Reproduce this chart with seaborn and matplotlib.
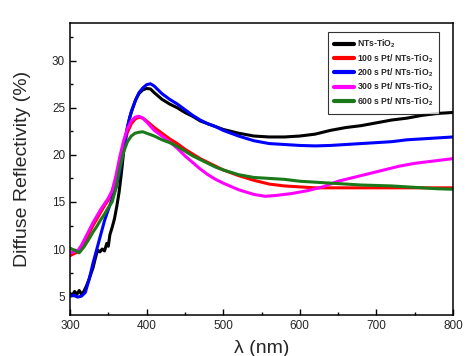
import pandas as pd
import numpy as np
import seaborn as sns
from matplotlib import pyplot as plt
from matplotlib.ticker import MultipleLocator

## Data
labels = ['NTs-TiO$_\\mathbf{2}$',
          '100 s Pt/ NTs-TiO$_\\mathbf{2}$',
          '200 s Pt/ NTs-TiO$_\\mathbf{2}$',
          '300 s Pt/ NTs-TiO$_\\mathbf{2}$',
          '600 s Pt/ NTs-TiO$_\\mathbf{2}$']
colours = ['#000000', '#ff0000', '#0000ff', '#ff00ff', '#1a7a1a']

wl_bare = [300, 303, 306, 309, 312, 315, 318, 321, 324, 327, 330, 333, 336, 339, 342, 345, 348, 350,
           352, 355, 358, 361, 364, 367, 370, 374, 378, 382, 386, 390, 395, 400, 405, 410, 420, 430,
           440, 450, 460, 470, 480, 490, 500, 520, 540, 560, 580, 600, 620, 640, 660, 680, 700, 720,
           740, 760, 780, 800]
r_bare = [5.3, 5.1, 5.5, 5.2, 5.6, 5.2, 5.5, 6.0, 6.6, 7.3, 8.0, 9.0, 9.9, 9.7, 10.0, 9.8, 10.6, 10.3,
          11.5, 12.3, 13.2, 14.5, 16.0, 18.0, 20.3, 22.5, 24.0, 25.0, 25.9, 26.5, 26.9, 27.05, 27.0, 26.6, 25.9, 25.4,
          25.0, 24.5, 24.1, 23.6, 23.3, 23.0, 22.7, 22.3, 22.0, 21.9, 21.9, 22.0, 22.2, 22.6, 22.9, 23.1, 23.4, 23.7,
          23.9, 24.2, 24.4, 24.5]

wl_100 = [300, 305, 310, 315, 320, 325, 330, 335, 340, 345, 350, 355, 360, 365, 370, 375, 380, 385, 390,
          395, 400, 410, 420, 430, 440, 450, 460, 470, 480, 490, 500, 520, 540, 560, 580, 600, 620, 650,
          700, 750, 800]
r_100 = [9.3, 9.5, 9.7, 10.2, 10.9, 11.7, 12.5, 13.2, 13.9, 14.6, 15.2, 16.0, 17.5, 19.3, 21.0, 22.4, 23.3, 23.8, 24.0,
         23.9, 23.6, 22.9, 22.3, 21.7, 21.2, 20.6, 20.1, 19.6, 19.2, 18.8, 18.4, 17.8, 17.3, 16.9, 16.7, 16.6, 16.5, 16.5,
         16.5, 16.5, 16.5]

wl_200 = [300, 305, 310, 315, 320, 325, 330, 335, 340, 345, 350, 355, 360, 365, 370, 375, 380, 385, 390,
          395, 400, 405, 410, 420, 430, 440, 450, 460, 470, 480, 490, 500, 520, 540, 560, 580, 600, 620,
          640, 660, 680, 700, 720, 740, 760, 780, 800]
r_200 = [5.0, 5.1, 4.9, 5.0, 5.4, 6.8, 8.5, 10.0, 11.5, 13.0, 14.2, 15.3, 16.5, 18.2, 20.5, 23.0, 24.6, 25.7, 26.6,
         27.1, 27.45, 27.55, 27.3, 26.5, 25.9, 25.4, 24.8, 24.2, 23.7, 23.3, 23.0, 22.6, 22.0, 21.5, 21.2, 21.1, 21.0, 20.95,
         21.0, 21.1, 21.2, 21.3, 21.4, 21.6, 21.7, 21.8, 21.9]

wl_300 = [300, 305, 310, 315, 320, 325, 330, 335, 340, 345, 350, 355, 360, 365, 370, 375, 380, 385, 390,
          395, 400, 410, 420, 430, 440, 450, 460, 470, 480, 490, 500, 520, 540, 555, 570, 590, 610, 630,
          650, 670, 690, 710, 730, 750, 770, 790, 800]
r_300 = [9.6, 9.7, 9.8, 10.4, 11.2, 12.0, 12.8, 13.5, 14.2, 14.8, 15.4, 16.2, 17.8, 19.8, 21.5, 22.8, 23.6, 24.0, 24.1,
         23.9, 23.5, 22.6, 22.0, 21.4, 20.7, 19.9, 19.2, 18.5, 17.9, 17.4, 17.0, 16.3, 15.8, 15.6, 15.7, 15.9, 16.2, 16.6,
         17.2, 17.6, 18.0, 18.4, 18.8, 19.1, 19.3, 19.5, 19.6]

wl_600 = [300, 305, 312, 318, 325, 330, 335, 340, 345, 350, 355, 360, 365, 370, 375, 380, 385, 390, 395,
          400, 410, 420, 430, 440, 450, 460, 470, 480, 490, 500, 520, 540, 560, 580, 600, 620, 640, 660,
          680, 700, 720, 740, 760, 780, 800]
r_600 = [10.1, 9.9, 9.6, 10.2, 11.1, 11.8, 12.4, 13.1, 13.7, 14.4, 15.0, 16.5, 18.6, 20.3, 21.4, 22.0, 22.3, 22.4, 22.45,
         22.3, 22.0, 21.6, 21.3, 20.9, 20.4, 19.9, 19.5, 19.1, 18.7, 18.4, 17.9, 17.6, 17.5, 17.4, 17.2, 17.1, 17.0, 16.9,
         16.8, 16.75, 16.7, 16.6, 16.5, 16.4, 16.35]

## Long table for seaborn
series = [(wl_bare, r_bare), (wl_100, r_100), (wl_200, r_200), (wl_300, r_300), (wl_600, r_600)]
frames = []
for lab, (wl, r) in zip(labels, series):
    frames.append(pd.DataFrame({'wavelength': wl, 'reflectivity': r, 'sample': lab}))
df = pd.concat(frames, ignore_index=True)

## Style
sns.set_style('ticks')
plt.rcParams['font.family'] = ['Liberation Sans', 'DejaVu Sans']
plt.rcParams['mathtext.fontset'] = 'custom'
plt.rcParams['mathtext.rm'] = 'Liberation Sans'
plt.rcParams['mathtext.bf'] = 'Liberation Sans:bold'

fig = plt.figure(figsize=(4.74, 3.56), dpi=100)
ax = fig.add_axes([0.1477, 0.1152, 0.808, 0.8202])

sns.lineplot(data=df, x='wavelength', y='reflectivity', hue='sample', hue_order=labels,
             palette=colours, estimator=None, linewidth=2.2, ax=ax)

ax.set_xlim(300, 800)
ax.set_ylim(3, 34)
ax.xaxis.set_major_locator(MultipleLocator(100))
ax.xaxis.set_minor_locator(MultipleLocator(50))
ax.yaxis.set_major_locator(MultipleLocator(5))
ax.yaxis.set_minor_locator(MultipleLocator(2.5))
ax.tick_params(which='both', direction='in', labelsize=8.5, width=1.0, color='black')
ax.tick_params(which='major', length=4)
ax.tick_params(which='minor', length=2.5)
for sp in ax.spines.values():
    sp.set_linewidth(1.1)
    sp.set_color('black')

# the reference has the x label running off the bottom edge
ax.set_xlabel('λ (nm)', fontsize=14, labelpad=6)
ax.set_ylabel('Diffuse Reflectivity (%)', fontsize=14, labelpad=15)

leg = ax.legend(loc='upper right', bbox_to_anchor=(0.975, 0.985), frameon=True, fancybox=False,
                prop={'size': 6.2, 'weight': 'bold'}, handlelength=2.3, handletextpad=0.35,
                labelspacing=0.22, borderpad=0.7, title=None)
leg.get_frame().set_edgecolor('black')
leg.get_frame().set_linewidth(0.8)
for line in leg.get_lines():
    line.set_linewidth(3)

fig.savefig('out.png', dpi=100)
